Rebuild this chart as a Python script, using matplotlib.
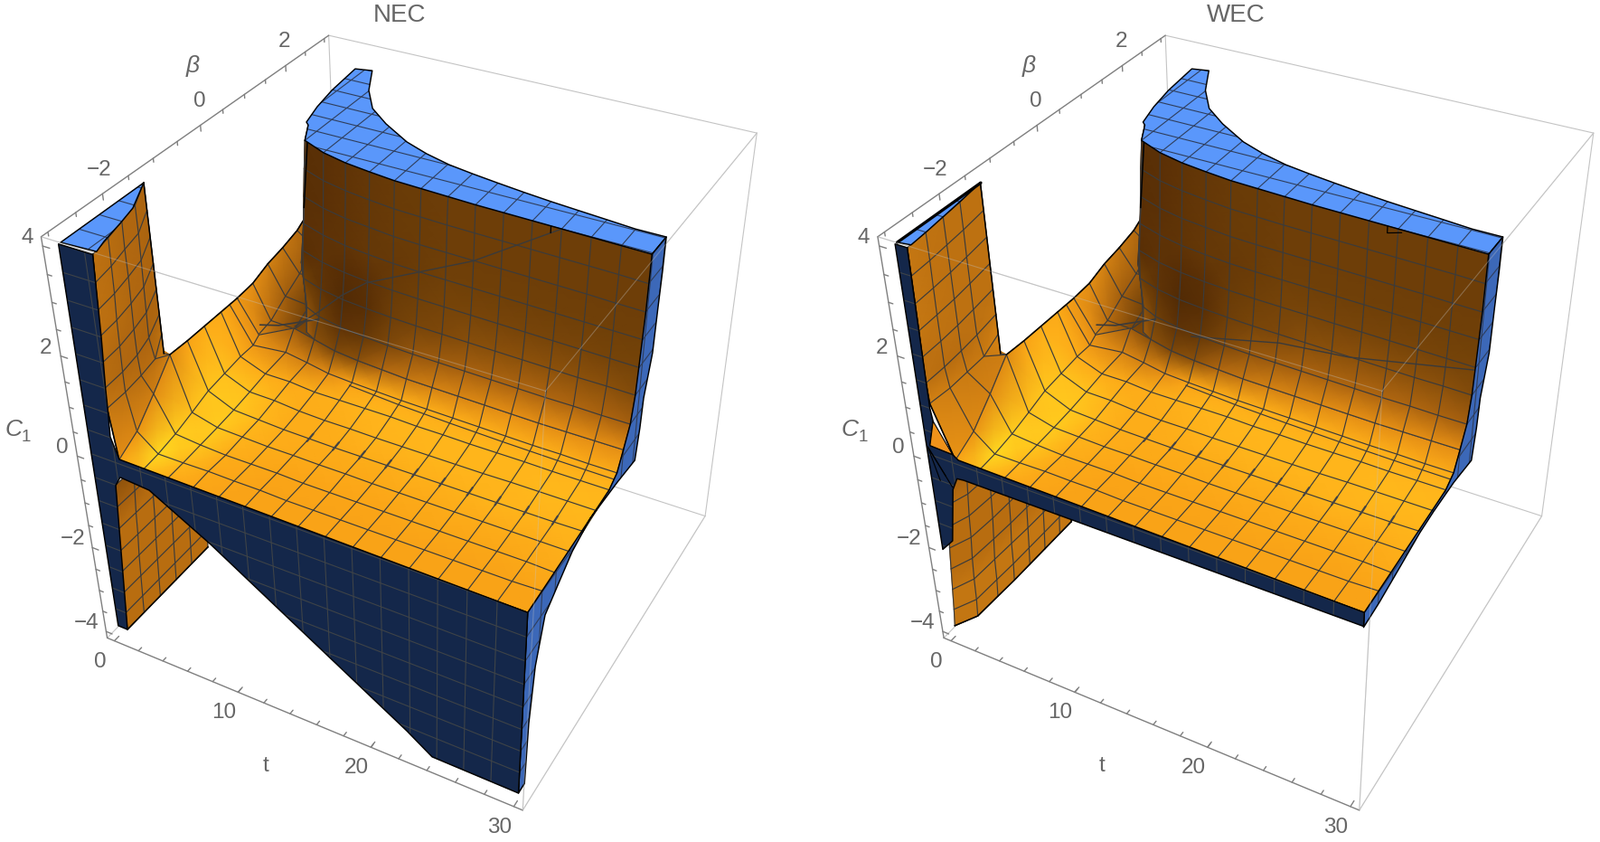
import numpy as np
import matplotlib
matplotlib.use('Agg')
import matplotlib.pyplot as plt
from matplotlib.colors import LinearSegmentedColormap
from matplotlib.patches import Polygon

plt.rcParams['font.family'] = ['Liberation Sans', 'DejaVu Sans']

# ---- view: pixel position of the eight corners of the plot box
box_corners = {(0,0,1):(47,261),(0,1,1):(363,38),(1,1,1):(837,147),(1,0,1):(603,435),
               (0,0,0):(117,703),(0,1,0):(380,444),(1,1,0):(780,568),(1,0,0):(579,897)}
lo = np.array([-.6,-3.12,-4.16]); hi = np.array([30.6,3.12,4.16])
panel_shift = 925.5
R=[]
for (a,b,c),(x,y) in box_corners.items():
    R.append([a,b,c,1,0,0,0,0,-x*a,-x*b,-x*c,-x]); R.append([0,0,0,0,a,b,c,1,-y*a,-y*b,-y*c,-y])
H=np.linalg.svd(np.array(R))[2][-1].reshape(3,4)

# ---- main sheet: t lines, floor rows
t_floor = [2.5,3.75,5.625,7.5,9.375,11.25,13.125,15,16.875,18.75,20.625,22.5,24.375,26.25,28.125,30]
t_first_col = [2.22,2.3,2.4,2.5,2.5,2.5,2.5,2.5,2.5]
beta_fixed = [-3,-2.625,-2.25,-1.875,-1.5,-1.125,-.75]
beta_r7 = [-.55,-.45,-.25,-.32,-.40,-.43,-.45,-.47,-.48,-.49,-.50,-.51,-.52,-.52,-.53,-.53]
beta_r8 = [-.375,-.3,-.02,-.12,-.22,-.27,-.30,-.33,-.34,-.35,-.36,-.37,-.38,-.38,-.38,-.38]
C_floor = [
 [.1,-.02,0,0,0,0,0,0,0,0,0,0,0,0,0,0],
 [.35,.02,.02,.03,.02,.02,0,0,0,0,0,0,0,0,0,.02],
 [.8,.1,.05,.02,.02,.02,0,0,0,0,0,0,0,0,0,-.02],
 [1.29,.22,.08,.06,.04,.04,.03,.03,.02,.02,.02,.02,.02,.02,.02,.02],
 [1.27,.35,.12,.09,.06,.05,.04,.04,.04,.04,.04,.04,.04,.04,.04,.05],
 [1.27,.4,.18,.17,.12,.1,.1,.09,.09,.09,.09,.09,.1,.1,.1,.1],
 [1.27,.45,.25,.25,.2,.2,.2,.2,.18,.18,.17,.17,.17,.16,.16,.16],
 [1.27,.45,.3,.3,.3,.3,.3,.3,.3,.3,.3,.3,.3,.3,.3,.3],
 [1.27,.55,.63,.63,.63,.63,.63,.63,.63,.63,.63,.63,.63,.63,.63,.63]]
S_floor = [
 [.74,.88,.78,.75,.74,.74,.74,.74,.74,.74,.74,.74,.74,.74,.74,.74],
 [.68,1.,.86,.77,.75,.74,.74,.74,.74,.74,.74,.74,.74,.74,.74,.75],
 [.65,.95,.92,.8,.77,.75,.75,.75,.75,.75,.76,.76,.76,.76,.77,.78],
 [.64,.9,.94,.84,.8,.78,.77,.77,.77,.78,.78,.79,.79,.8,.8,.82],
 [.74,.92,.93,.86,.8,.79,.79,.8,.8,.82,.82,.83,.84,.84,.84,.85],
 [.8,.9,.9,.84,.8,.8,.82,.84,.84,.85,.85,.85,.85,.86,.86,.86],
 [.78,.8,.8,.78,.8,.82,.84,.85,.85,.85,.85,.85,.85,.85,.85,.85],
 [.72,.7,.62,.6,.66,.74,.78,.8,.8,.8,.8,.8,.8,.8,.78,.78],
 [.7,.65,.42,.34,.3,.35,.48,.55,.6,.62,.64,.66,.66,.66,.66,.66]]

# ---- wall: rows at fixed C1, beta of the wall on each t line
t_wall_rest = [7.5,9.375,11.25,13.125,15,16.875,18.75,20.625,22.5,24.375,26.25,28.125,30]
t_wall_col0 = [5.6,5.2,4.6,4.6,4.55,4.6,4.65,4.7]
t_wall_col1 = [6.6,6.2,5.8,5.625,5.625,5.625,5.625,5.625]
C_wall = [.63,1,1.5,2,2.5,3,3.5,4]
beta_wall = [
 [.3,-.02,-.12,-.22,-.27,-.30,-.33,-.34,-.35,-.36,-.37,-.38,-.38,-.38,-.38],
 [.42,.14,.02,-.06,-.11,-.14,-.16,-.17,-.18,-.19,-.20,-.21,-.21,-.22,-.22],
 [.55,.22,.10,.02,-.02,-.05,-.07,-.08,-.09,-.10,-.11,-.12,-.13,-.13,-.14],
 [.62,.29,.16,.08,.03,0,-.02,-.03,-.04,-.05,-.06,-.07,-.08,-.09,-.10],
 [.7,.34,.21,.12,.07,.03,.01,0,-.01,-.02,-.03,-.04,-.05,-.06,-.07],
 [.75,.38,.24,.15,.10,.05,.03,.02,.01,0,-.01,-.02,-.03,-.05,-.06],
 [.8,.42,.27,.18,.12,.07,.05,.03,.02,.01,0,-.01,-.02,-.03,-.05],
 [.85,.47,.30,.20,.14,.09,.07,.05,.03,.02,.01,0,-.01,-.02,-.03]]
S_wall = [
 [.3,.42,.34,.3,.35,.48,.55,.6,.62,.64,.66,.66,.66,.66,.66],
 [.14,.35,.25,.17,.2,.3,.38,.42,.45,.46,.47,.47,.47,.46,.44],
 [.1,.25,.18,.12,.15,.24,.28,.3,.33,.34,.35,.35,.35,.34,.32],
 [.1,.15,.17,.14,.16,.22,.25,.27,.28,.28,.28,.28,.28,.27,.27],
 [.13,.16,.17,.18,.2,.21,.23,.25,.25,.25,.25,.25,.25,.25,.25],
 [.13,.15,.16,.18,.2,.22,.23,.24,.24,.24,.24,.24,.24,.24,.24],
 [.13,.15,.16,.18,.2,.22,.23,.24,.24,.24,.24,.24,.24,.24,.24],
 [.13,.15,.16,.18,.2,.22,.23,.24,.24,.24,.24,.24,.24,.24,.24]]

# ---- ramp between the notch and the foot of the wall
t_ramp = [2.5,3.75,5.625,7.5]
beta_ramp = [-.375,0,.375,.75,1.125,1.35]
C_ramp = [[1.27,1.3,1.43,1.5,1.6,1.73],[.55,.62,.85,1.05,1.35,1.7],[.5,.6,.8,1.1,1.5,2.],[.6,1.1,1.6,2.,2.4,2.8]]
S_ramp = [[.7,.66,.6,.55,.5,.46],[.66,.5,.42,.42,.42,.42],[.45,.3,.25,.25,.25,.25],[.3,.2,.2,.2,.2,.2]]
ramp_back_t = [3.75,7.5,7.5,3.75]; ramp_back_b = [-.3,-.12,.5,1]; ramp_back_C = [.55,.63,2,1.5]
ramp_crease_t = [3.75,4.55,6.15]; ramp_crease_b = [-.26,-.06,.44]; ramp_crease_C = [.73,.63,.51]

# ---- caps at C1 = 4 (t, beta)
cap_far_t = [3.42,3.1,4.26,5.58,7.13,8.98,11.36,13.2,15.09,16.88,18.68,20.64,22.52,24.37,26.27,28.1,30]
cap_far_b = [1.86,2.58,2.64,2.09,1.65,1.35,1.04,.88,.76,.69,.63,.57,.52,.48,.44,.40,.40]
cap_left_t = [3.84,4.38,4.7]
cap_left_b = [1.35,.91,.85]
fin_beta = [-3,-2.625,-2.25,-1.875,-1.38]
fin_C = [[4]*5,[3.5]*5,[3]*5,[2.5]*5,[2]*5,[1.5]*5,[1.1]*5,[.05,.35,.8,1.29,.7]]
fin_T_nec = [[2.45,2.1,1.65,1.2,.01],[2.35,2.05,1.6,1.2,.01],[2.25,2,1.6,1.15,.01],[2.1,1.9,1.55,1.1,.01],
             [2,1.85,1.5,1.05,.01],[1.9,1.8,1.5,1,.01],[1.85,1.8,1.6,1.3,.01],[2.22,2.3,2.4,2.5,.01]]
fin_S_nec = [[.52,.5,.48,.47,.46]]*4+[[.5,.48,.47,.46,.46],[.5,.48,.47,.46,.48],[.55,.52,.5,.5,.52],[.66,.62,.58,.58,.58]]
fin_T_wec = [[.9,.75,.55,.35,.01],[.88,.75,.55,.35,.01],[.85,.72,.55,.33,.01],[.82,.7,.55,.33,.01],
             [.78,.7,.55,.33,.01],[.75,.7,.55,.35,.01],[.8,.9,.8,.7,.01],[2.22,2.3,2.4,2.5,.01]]
fin_S_wec = [[.55,.53,.52,.52,.52]]*4+[[.52,.52,.52,.52,.52],[.52,.5,.5,.52,.55],[.6,.58,.56,.56,.6],[.68,.64,.6,.58,.6]]
lcap_nec_t = [.04,2.45,2.13,1.71,1.28,.01]
lcap_nec_b = [-2.96,-2.93,-2.71,-2.3,-1.94,-1.38]
lcap_wec_t = [.04,.9,.75,.55,.35,.01]
lcap_wec_b = [-2.96,-2.93,-2.6,-2.25,-1.9,-1.38]

# ---- face beta = -3 (t, C1)
navy_nec_t = [.04,2.45,2.2,1.95,1.86,1.76,2.22,30,30,24.05,22.27,8.56,4.26,2.08,1.62,.77,.0]
navy_nec_C = [4,4,2.5,1.5,.95,.52,.1,0,-4,-3.98,-3.6,-1.04,-.34,-.29,-.51,-3.92,-3.92]
navy_wec_t = [.04,.9,.82,.75,.85,.3,2.0,2.4,30,30,2.6,2.08,1.62,.95,0]
navy_wec_C = [4,4,2.5,1,.75,.2,.18,.1,0,-.28,-.3,-.32,-.6,-1.8,-2.1]
notch_t = [.85,.3,2.0]; notch_C = [.75,.2,.18]
fan_t = [1.62,1.2,.7]; fan_C = [-.55,-.35,-.5]

# ---- face t = 30 (beta, C1)
side_nec_b = [-3,-2.83,-2.8,-2.7,-2.5,-2.18,-1.8,-1.31,-.49,.07,.14,.17,.33,.36,.39,.4,-.03,-.05,-.14,-.22,-.38,-.53,-.75,-3]
side_nec_C = [-4,-4,-2.62,-1.47,-.61,-.35,-.05,.12,.07,0,.6,1.18,1.93,2.76,3.4,4,4,3,1.5,1,.63,.3,.16,0]
side_wec_b = [-3,-2.6,-2.1,-1.5,-1.1,-.49,.07,.14,.17,.33,.36,.39,.4,-.03,-.05,-.14,-.22,-.38,-.53,-.75,-3]
side_wec_C = [-.3,-.25,-.13,.02,.06,.07,0,.6,1.18,1.93,2.76,3.4,4,4,3,1.5,1,.63,.3,.16,0]

# ---- underside sheets seen below the face beta = -3
low_beta_nec = [-3,-2.625,-2.25,-1.875,-1.5,-1.1]
low_C_nec = [-3.92,-3.5,-3,-2.5,-2,-1.5,-1,-.5]
low_T_nec = [.77,.85,.95,1.05,1.2,1.3,1.45,1.62]
low_beta_wec = [-3,-2.7,-2.25,-1.875,-1.5,-1.125,-.75,-.45]
low_C_wec = [-3.92,-3.5,-3,-2.5,-2,-1.5,-1,-.5,-.3]
low_T_wec = [[0,.8,.85,.9,.9,.9,.9,.9],[.15,.9,.95,1,1,1,1,1],[.3,.95,1,1.05,1.1,1.1,1.1,1.1],[.45,1.05,1.15,1.2,1.2,1.2,1.2,1.2],
             [.6,1.2,1.3,1.3,1.3,1.3,1.3,1.3],[.8,1.3,1.4,1.4,1.4,1.4,1.4,1.4],[1,1.45,1.5,1.5,1.5,1.5,1.5,1.5],[1.3,1.6,1.6,1.6,1.6,1.6,1.6,1.6],[1.6,1.7,1.7,1.7,1.7,1.7,1.7,1.7]]

# ---- single lines on the surfaces
line_nec_t = [5.625,7.5,9.375,11.25,15,18.75,24.375]
line_nec_C = [.65,1.1,1.6,2,2.5,3,4]
line_wec_t = [10.3,17,21.8,30]
line_wec_b = [-.02,-.1,-.12,-.1]
line_wec_C = [.85,1.35,1.5,1.95]
crease_t = [11.25,15,18.75,22.5,26.25,30]
crease_b = [-.50,-.53,-.55,-.57,-.58,-.59]
crease_C = [.3,.26,.24,.23,.22,.22]
wrinkle_t = [11.25,13.125,15,16.875,18.75,20.625,22.5,24.375,26.25,28.125]
wrinkle_b = (-1.55,-1.4)
wrinkle_C = (.04,.06)
mark_t = [23.7,23.7,24.6]; mark_b = [0,0,0]; mark_C = [4,3.88,3.95]

# ---- ticks
t_major = [0,10,20,30]; t_minor = list(range(2,30,2))
beta_major = [-2,0,2]; beta_minor = [-3,-2.5,-1.5,-1,-.5,.5,1,1.5,2.5,3]
C_major = [-4,-2,0,2,4]; C_minor = [-3.5,-3,-2.5,-1.5,-1,-.5,.5,1,1.5,2.5,3,3.5]
mesh_t = [1.875*k for k in range(0,17)]
mesh_b = [-3+.375*k for k in range(0,17)]
mesh_C = [-4+.5*k for k in range(0,17)]

cm = LinearSegmentedColormap.from_list('sheet',[(0,'#3a1d03'),(.13,'#552c05'),(.25,'#704008'),(.45,'#a9620f'),
      (.66,'#e58f15'),(.75,'#fba517'),(.85,'#ffb51b'),(1,'#ffd820')])
MESH='#3b3b3b'; LIGHT='#5a97fb'; NAVY='#14274a'; SIDE='#3c68b8'

fig = plt.figure(figsize=(17.7,9.31),dpi=100)
ax = fig.add_axes([0,0,1,1]); ax.set_xlim(0,1770); ax.set_ylim(931,0); ax.axis('off')
z=[10]
def nz():
    z[0]+=1; return z[0]

def panel(title, shift, kind):
    def P(t,b,c):
        t,b,c = np.broadcast_arrays(np.asarray(t,float),np.asarray(b,float),np.asarray(c,float))
        w = [(v-lo[i])/(hi[i]-lo[i]) for i,v in enumerate((t,b,c))]
        d = H[2,0]*w[0]+H[2,1]*w[1]+H[2,2]*w[2]+H[2,3]
        x = (H[0,0]*w[0]+H[0,1]*w[1]+H[0,2]*w[2]+H[0,3])/d + shift
        y = (H[1,0]*w[0]+H[1,1]*w[1]+H[1,2]*w[2]+H[1,3])/d
        return x,y
    def line(t,b,c,color=MESH,lw=.9,zo=None,alpha=1,clip=None):
        x,y=P(t,b,c)
        l,=ax.plot(x,y,color=color,lw=lw,alpha=alpha,zorder=nz() if zo is None else zo,solid_capstyle='round')
        if clip is not None: l.set_clip_path(clip)
        return l
    def sheet(T,B,C,S,edges=()):
        T,B,C=np.array(T,float),np.array(B,float),np.array(C,float)
        x,y=P(T,B,C)
        ax.pcolormesh(x,y,np.array(S,float),shading='gouraud',cmap=cm,vmin=0,vmax=1,zorder=nz())
        zo=nz()
        for i in range(x.shape[0]): ax.plot(x[i],y[i],color=MESH,lw=.85,zorder=zo)
        for j in range(x.shape[1]): ax.plot(x[:,j],y[:,j],color=MESH,lw=.85,zorder=zo)
        zo=nz()
        for e in edges:
            if e=='top': ax.plot(x[0],y[0],'k',lw=1.1,zorder=zo)
            if e=='left': ax.plot(x[:,0],y[:,0],'k',lw=1.1,zorder=zo)
            if e=='left_upper': ax.plot(x[4:,0],y[4:,0],'k',lw=1.1,zorder=zo)
            if e=='right': ax.plot(x[:,-1],y[:,-1],'k',lw=1.1,zorder=zo)
    def face(xs,ys,color,lines):
        pg=Polygon(np.c_[xs,ys],closed=True,facecolor=color,edgecolor='none',zorder=nz())
        ax.add_patch(pg)
        for (t,b,c,col) in lines:
            line(t,b,c,color=col,lw=.8,zo=pg.get_zorder(),clip=pg)
        ax.add_patch(Polygon(np.c_[xs,ys],closed=True,fill=False,edgecolor='k',lw=1.05,zorder=nz(),joinstyle='round'))
        return pg

    a,b_,c = lo; A,B_,C = hi
    for p,q in [((a,B_,C),(A,B_,C)),((A,B_,C),(A,B_,c)),((a,B_,C),(a,B_,c)),((a,B_,c),(A,B_,c)),((a,b_,c),(a,B_,c)),
                ((A,b_,c),(A,B_,c)),((a,b_,C),(A,b_,C)),((A,b_,C),(A,B_,C)),((A,b_,C),(A,b_,c))]:
        line(*zip(p,q),color='#c4c4c4',lw=.8,zo=2)
    line((a,a),(b_,B_),(C,C),color='#7f7f7f',lw=1,zo=2)
    line((a,a),(b_,b_),(C,c),color='#7f7f7f',lw=1,zo=2)
    line((a,A),(b_,b_),(c,c),color='#7f7f7f',lw=1,zo=2)
    for v,L in [(v,.1) for v in t_major]+[(v,.07) for v in t_minor]:
        line((v,v),(b_,b_+L),(c,c),color='#7f7f7f',lw=1,zo=2)
    for v,L in [(v,.5) for v in C_major]+[(v,.32) for v in C_minor]:
        line((a,a+L),(b_,b_),(v,v),color='#7f7f7f',lw=1,zo=2)
    for v,L in [(v,.11) for v in beta_major]+[(v,.07) for v in beta_minor]:
        line((a,a),(v,v),(C,C-L),color='#7f7f7f',lw=1,zo=2)
    kw=dict(color='#666666',ha='center',va='center',zorder=500)
    for v in t_major:
        x,y=P(v,b_,c); ax.text(x-16,y+23,str(v),fontsize=17.5,**kw)
    for v in C_major:
        x,y=P(a,b_,v); ax.text(x-(22 if v<0 else 17),y-9,str(v).replace('-','\u2212'),fontsize=17.5,**kw)
    for v in beta_major:
        x,y=P(a,v,C); ax.text(x-(4 if v<0 else 1),y-26,str(v).replace('-','\u2212'),fontsize=17.5,**kw)
    ax.text(213+shift,73,'\u03b2',fontsize=19,style='italic',**kw)
    ax.text(294+shift,847,'t',fontsize=17.5,**kw)
    ax.text(15+shift,475,'C',fontsize=19,style='italic',**kw)
    ax.text(29+shift,484,'1',fontsize=13.5,**kw)
    ax.text(442+shift,17,title,fontsize=20,**kw)

    nec = kind=='nec'
    # underside
    if nec:
        Bl,Cl=np.meshgrid(low_beta_nec,low_C_nec)
        Tl=np.tile(np.array(low_T_nec)[:,None],(1,len(low_beta_nec)))
        Sl=np.full(Bl.shape,.5); Sl[-1,:2]=.36; Sl[-2,:2]=.44
        sheet(Tl,Bl,Cl,Sl,edges=('top',))
    else:
        Bl,Cl=np.meshgrid(low_beta_wec,low_C_wec)
        Sl=np.full(Bl.shape,.5); Sl[-1,:2]=.36; Sl[-2,:2]=.44; Sl[:3]=.54
        sheet(low_T_wec,Bl,Cl,Sl,edges=('top','right'))
    # fin
    fT = fin_T_nec if nec else fin_T_wec
    fS = fin_S_nec if nec else fin_S_wec
    sheet(fT,np.tile(fin_beta,(len(fT),1)),fin_C,fS,edges=('right','left'))
    # ramp
    xs,ys=P(np.array(ramp_back_t),np.array(ramp_back_b),np.array(ramp_back_C))
    ax.add_patch(Polygon(np.c_[xs,ys],closed=True,facecolor='#7a4a10',edgecolor='none',zorder=nz()))
    Br = np.tile(beta_ramp,(len(t_ramp),1)); Tr=np.tile(np.array(t_ramp)[:,None],(1,len(beta_ramp)))
    sheet(Tr,Br,C_ramp,S_ramp,edges=('top',))
    # floor
    Bf=np.array([[b]*16 for b in beta_fixed]+[beta_r7,beta_r8],float)
    Tf=np.tile(np.array(t_floor,float),(9,1)); Tf[:,0]=t_first_col
    sheet(Tf,Bf,C_floor,S_floor,edges=('top',))
    x,y=P(Tf[3:,0],Bf[3:,0],np.array(C_floor)[3:,0]); ax.plot(x,y,'k',lw=1.1,zorder=nz())
    line(crease_t,crease_b,crease_C,color=MESH,lw=.85)
    for t in wrinkle_t:
        line((t,t),wrinkle_b,wrinkle_C,color='#444444',lw=1.6)
    # wall
    t_wall=[[t0,t1]+t_wall_rest for t0,t1 in zip(t_wall_col0,t_wall_col1)]
    Cw=np.tile(np.array(C_wall)[:,None],(1,len(t_wall[0])))
    sheet(t_wall,beta_wall,Cw,S_wall,edges=('left_upper',))
    line(ramp_crease_t,ramp_crease_b,ramp_crease_C,color='#3a3a3a',lw=1.2)
    if nec:
        line(line_nec_t,[0]*len(line_nec_t),line_nec_C,color='#3a3a3a',lw=1)
        line(mark_t[:2],mark_b[:2],mark_C[:2],color='k',lw=.9)
    else:
        line(line_wec_t,line_wec_b,line_wec_C,color='#3a3a3a',lw=1)
        line(mark_t,mark_b,mark_C,color='k',lw=.9)
    # caps
    tw=np.array(t_wall[-1]); bw=np.array(beta_wall[-1])
    cT=np.r_[tw[::-1],cap_left_t[::-1][1:],cap_far_t]; cB=np.r_[bw[::-1],cap_left_b[::-1][1:],cap_far_b]
    xs,ys=P(cT,cB,4)
    L=[((v,v),(-3.1,3.1),(4,4),'#2f3e5c') for v in mesh_t]+[((0,30),(v,v),(4,4),'#2f3e5c') for v in mesh_b]
    face(xs,ys,LIGHT,L)
    lt=lcap_nec_t if nec else lcap_wec_t; lb=lcap_nec_b if nec else lcap_wec_b
    xs,ys=P(lt,lb,4); face(xs,ys,LIGHT,L)
    if not nec:
        line((.04,.04),(-2.96,-1.38),(4,4),color='k',lw=2.4)
    # side face
    sb,sc=(side_nec_b,side_nec_C) if nec else (side_wec_b,side_wec_C)
    xs,ys=P(30,np.array(sb),np.array(sc))
    L2=[((30,30),(v,v),(-4.1,4.1),'#2f3e5c') for v in mesh_b]+[((30,30),(-3.1,3.1),(v,v),'#2f3e5c') for v in mesh_C]
    face(xs,ys,SIDE,L2)
    # navy face
    nt,nc=(navy_nec_t,navy_nec_C) if nec else (navy_wec_t,navy_wec_C)
    xs,ys=P(np.array(nt),-3,np.array(nc))
    L3=[((v,v),(-3,-3),(-4.2,4.2),'#3e4347') for v in mesh_t]+[((0,30),(-3,-3),(v,v),'#3e4347') for v in mesh_C]
    face(xs,ys,NAVY,L3)
    if not nec:
        xs,ys=P(np.array(notch_t),-3,np.array(notch_C))
        ax.add_patch(Polygon(np.c_[xs,ys],closed=True,facecolor='#f0921a',edgecolor='k',lw=.8,zorder=nz()))
        for t,cc in zip(fan_t,fan_C):
            line((.1,t),(-3,-3),(.15,cc),color='k',lw=.8)
    # front box edges, faint over the surfaces
    for p,q in [((a,b_,C),(A,b_,C)),((A,b_,C),(A,B_,C)),((A,b_,C),(A,b_,c)),((A,b_,c),(A,B_,c))]:
        line(*zip(p,q),color='#c4c4c4',lw=.8,alpha=.35,zo=400)

panel('NEC',0,'nec')
panel('WEC',panel_shift,'wec')
fig.savefig('out.png',dpi=100)
